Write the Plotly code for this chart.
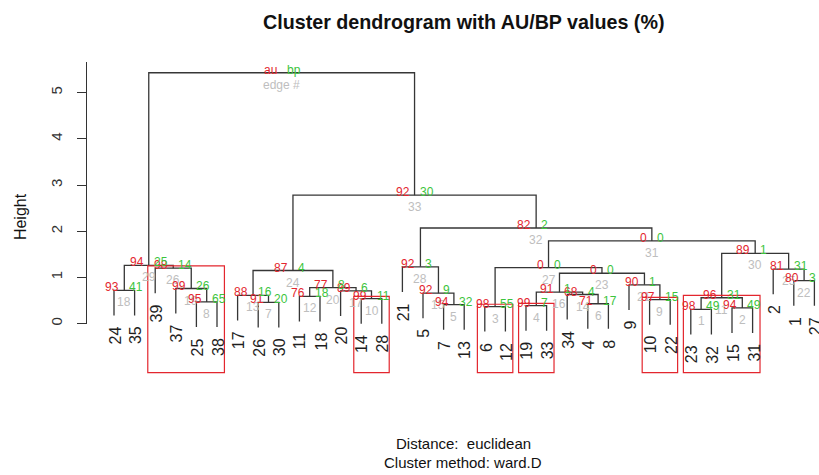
import plotly.graph_objects as go

# Hierarchical clustering result (hclust convention: negative = leaf label,
# positive = earlier merge / edge number). Last row is the root.
merge_left = [-23, -15, -6, -19, -7, -4, -26, -25, -10, -14, 1, -11, -17, -34, -5, 4, -20,
              -24, -37, 12, -9, -1, 16, 13, -2, -39, 3, -21, 18, 11, 27, 28, 24, 29]
merge_right = [-32, -31, -12, -33, -13, -8, -30, -38, -22, -28, 2, -18, 7, 6, 5, 14, 10,
               -35, 8, 17, 9, -27, 21, 20, 22, 19, 23, 15, 26, 25, 30, 31, 32, 33]
heights = [0.31, 0.34, 0.37, 0.39, 0.41, 0.43, 0.46, 0.47, 0.52, 0.54, 0.56, 0.59, 0.61,
           0.63, 0.66, 0.68, 0.71, 0.72, 0.76, 0.78, 0.84, 0.93, 1.09, 1.15, 1.18, 1.20,
           1.21, 1.23, 1.26, 1.52, 1.79, 2.07, 2.78, 5.43]

# Multiscale bootstrap p-values (%) per edge 1..33
au_values = [98, 94, 98, 99, 94, 71, 91, 95, 97, 99, 96, 76, 88, 68, 92, 91, 89, 93, 99, 77,
             90, 80, 0, 87, 81, 98, 0, 92, 94, 89, 0, 82, 92]
bp_values = [49, 49, 55, 7, 32, 17, 20, 65, 15, 11, 31, 18, 16, 4, 9, 1, 6, 41, 26, 8,
             1, 3, 0, 4, 31, 14, 0, 3, 25, 1, 0, 2, 30]

y_ticks = [0, 1, 2, 3, 4, 5]
title_text = "Cluster dendrogram with AU/BP values (%)"
sub_lines = ["Distance:  euclidean", "Cluster method: ward.D"]
AU_ALPHA = 95

RED = "#E3262E"
GREEN = "#3CC43C"
GRAY = "#BEBEBE"
LINE = "#363636"
FONT = "Liberation Sans, Arial, sans-serif"

W, H = 819, 475
n_nodes = len(merge_left)
HANG = 0.1 * max(heights)


def leaves_of(node):
    if node < 0:
        return [-node]
    return leaves_of(merge_left[node - 1]) + leaves_of(merge_right[node - 1])


leaf_order = leaves_of(n_nodes)
leaf_pos = {lab: i for i, lab in enumerate(leaf_order)}
node_x = {}


def xpos(node):
    return leaf_pos[-node] if node < 0 else node_x[node]


for k in range(1, n_nodes + 1):
    node_x[k] = (xpos(merge_left[k - 1]) + xpos(merge_right[k - 1])) / 2

# dendrogram segments
seg_x, seg_y = [], []
leaf_bottom = {}
for k in range(1, n_nodes + 1):
    h = heights[k - 1]
    l, r = merge_left[k - 1], merge_right[k - 1]
    ends = []
    for c in (l, r):
        if c < 0:
            yb = h - HANG
            leaf_bottom[-c] = yb
        else:
            yb = heights[c - 1]
        ends.append((xpos(c), yb))
    (xl, yl), (xr, yr) = ends
    seg_x += [xl, xl, xr, xr, None]
    seg_y += [yl, h, h, yr, None]

# axis ranges: leaf index on x, height on y
px_per_x = 20.6
px_per_y = 46.4
x0_px, y0_px = 114, 325
x_range = [-x0_px / px_per_x, (W - x0_px) / px_per_x]
y_range = [-(H - y0_px) / px_per_y, y0_px / px_per_y]
axis_top = 5.668
axis_x_px = 86

fig = go.Figure()
fig.add_trace(go.Scatter(x=seg_x, y=seg_y, mode="lines",
                         line=dict(color=LINE, width=1.3),
                         hoverinfo="skip", showlegend=False))
# carrier for the visible height axis
fig.add_trace(go.Scatter(x=[0], y=[0], xaxis="x", yaxis="y2", mode="markers",
                         marker=dict(opacity=0), hoverinfo="skip", showlegend=False))

ann = []
# edge numbers
for k in range(1, n_nodes + 1):
    txt = str(k) if k < n_nodes else "edge #"
    ann.append(dict(x=node_x[k], y=heights[k - 1], text=txt, xanchor="center",
                    yanchor="middle", yshift=-12,
                    font=dict(color=GRAY, size=12, family=FONT)))
# au / bp
for k in range(1, n_nodes + 1):
    a = str(au_values[k - 1]) if k < n_nodes else "au"
    ann.append(dict(x=node_x[k], y=heights[k - 1], text=a, xanchor="right",
                    yanchor="middle", xshift=-3, yshift=3,
                    font=dict(color=RED, size=12, family=FONT)))
for k in range(1, n_nodes + 1):
    b = str(bp_values[k - 1]) if k < n_nodes else "bp"
    ann.append(dict(x=node_x[k], y=heights[k - 1], text=b, xanchor="left",
                    yanchor="middle", xshift=3, yshift=3,
                    font=dict(color=GREEN, size=12, family=FONT)))
# leaf labels
for lab in leaf_order:
    ann.append(dict(x=leaf_pos[lab], y=leaf_bottom[lab], text=str(lab), textangle=-90,
                    xanchor="center", yanchor="top", yshift=-9, xshift=1,
                    font=dict(color="#1e1e1e", size=16, family=FONT)))
# titles
ann.append(dict(x=463 / W, y=1 - 22 / H, xref="paper", yref="paper",
                text="<b>" + title_text + "</b>", xanchor="center", yanchor="middle",
                font=dict(color="#111", size=19.7, family=FONT)))
for i, s in enumerate(sub_lines):
    ann.append(dict(x=463 / W, y=1 - (445 + 19 * i) / H, xref="paper", yref="paper",
                    text=s, xanchor="center", yanchor="middle",
                    font=dict(color="#111", size=15, family=FONT)))
ann.append(dict(x=20 / W, y=1 - 218 / H, xref="paper", yref="paper", text="Height",
                textangle=-90, xanchor="center", yanchor="middle",
                font=dict(color="#111", size=16, family=FONT)))
for a in ann:
    a.setdefault("xref", "x")
    a.setdefault("yref", "y")
    a["showarrow"] = False

# rectangles around clusters with high AU (largest qualifying only)
shapes = []
covered = set()
mx = 0.36
my = 0.05
rect_base = -1.06
for k in range(n_nodes - 1, 0, -1):
    if au_values[k - 1] >= AU_ALPHA:
        mem = leaves_of(k)
        pos = [leaf_pos[m] for m in mem]
        if not covered.intersection(mem):
            shapes.append(dict(type="rect", xref="x", yref="y",
                               x0=min(pos) - mx, x1=max(pos) + mx,
                               y0=rect_base, y1=heights[k - 1] + my,
                               line=dict(color=RED, width=1.2)))
        covered.update(mem)

fig.update_layout(
    width=W, height=H, margin=dict(l=0, r=0, t=0, b=0),
    paper_bgcolor="white", plot_bgcolor="rgba(0,0,0,0)",
    xaxis=dict(range=x_range, visible=False, fixedrange=True),
    yaxis=dict(range=y_range, visible=False, fixedrange=True, domain=[0, 1]),
    yaxis2=dict(range=[0, axis_top], domain=[(H - y0_px) / H, (H - y0_px + axis_top * px_per_y) / H],
                anchor="free", position=axis_x_px / W, showline=True, linecolor="#333",
                linewidth=1, ticks="outside", ticklen=9, tickcolor="#333",
                tickvals=y_ticks, ticktext=[str(t) for t in y_ticks], tickangle=-90,
                ticklabelstandoff=9, showgrid=False, zeroline=False,
                tickfont=dict(size=15, color="#333", family=FONT), fixedrange=True),
    annotations=ann, shapes=shapes, showlegend=False,
)

fig.write_html("out.html")
